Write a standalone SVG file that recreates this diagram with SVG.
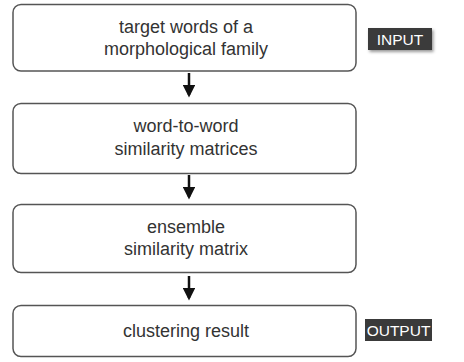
<svg xmlns="http://www.w3.org/2000/svg" width="464" height="362" viewBox="0 0 464 362">
<style>
.box{fill:#fff;stroke:#555;stroke-width:1.5}
.t{font-family:"Liberation Sans",Arial,sans-serif;font-size:18px;fill:#333;text-anchor:middle}
.lab{fill:#3a3a3a}
.lt{font-family:"Liberation Sans",Arial,sans-serif;font-size:15.5px;fill:#fff;text-anchor:middle}
.c{stroke:#111;stroke-width:2.5;fill:none}
</style>
<defs>
<marker id="ah" markerWidth="5" markerHeight="5" refX="4" refY="2.5" orient="auto" markerUnits="strokeWidth">
<path d="M0,0 L5,2.5 L0,5 Z" fill="#111"/>
</marker>
<filter id="sh" x="-20%" y="-30%" width="150%" height="180%">
<feDropShadow dx="1.5" dy="2" stdDeviation="1.5" flood-color="#000" flood-opacity="0.4"/>
</filter>
</defs>
<g id="n1">
<rect class="box" x="13" y="4.5" width="343" height="66.5" rx="8"/>
<text class="t" x="186" y="33">target words of a</text>
<text class="t" x="186" y="55">morphological family</text>
</g>
<g id="n2">
<rect class="box" x="13" y="103.5" width="343" height="70" rx="8"/>
<text class="t" x="186" y="132">word-to-word</text>
<text class="t" x="186" y="155">similarity matrices</text>
</g>
<g id="n3">
<rect class="box" x="13" y="204.5" width="343" height="68" rx="8"/>
<text class="t" x="186" y="233">ensemble</text>
<text class="t" x="186" y="255">similarity matrix</text>
</g>
<g id="n4">
<rect class="box" x="13" y="305.5" width="343" height="51" rx="8"/>
<text class="t" x="186" y="337">clustering result</text>
</g>
<g id="input">
<rect class="lab" x="368" y="28" width="64" height="22" filter="url(#sh)"/>
<text class="lt" x="400" y="44.5">INPUT</text>
</g>
<g id="output">
<rect class="lab" x="365" y="319" width="67" height="22"/>
<text class="lt" x="398.5" y="335.5">OUTPUT</text>
</g>
<g id="connectors">
<line class="c" x1="189" y1="73" x2="189" y2="95" marker-end="url(#ah)"/>
<line class="c" x1="189" y1="175" x2="189" y2="197" marker-end="url(#ah)"/>
<line class="c" x1="189" y1="276" x2="189" y2="298" marker-end="url(#ah)"/>
</g>
</svg>
